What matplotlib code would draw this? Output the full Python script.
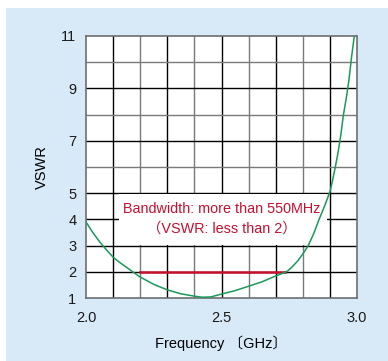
import matplotlib
matplotlib.use("Agg")
import matplotlib.pyplot as plt
from matplotlib.patches import Rectangle

plt.rcParams['font.family'] = ['Liberation Sans', 'Noto Sans CJK JP', 'DejaVu Sans']

# Datos
frecuencia = [2.00, 2.025, 2.05, 2.075, 2.10, 2.125, 2.15, 2.175, 2.20, 2.25, 2.30,
              2.35, 2.40, 2.43, 2.46, 2.50, 2.55, 2.60, 2.65, 2.70, 2.74,
              2.76, 2.78, 2.80, 2.82, 2.84, 2.86, 2.88, 2.90, 2.91, 2.92,
              2.93, 2.94, 2.95, 2.96, 2.97, 2.98, 2.99]
vswr = [3.90, 3.50, 3.15, 2.84, 2.56, 2.35, 2.17, 1.98, 1.80, 1.52, 1.31,
        1.16, 1.07, 1.03, 1.04, 1.15, 1.28, 1.45, 1.62, 1.84, 2.00,
        2.18, 2.40, 2.68, 3.00, 3.45, 4.00, 4.50, 5.05, 5.50, 6.00,
        6.55, 7.20, 8.00, 8.60, 9.30, 10.20, 11.00]
banda = [2.2, 2.735]
limite_vswr = 2
x_ticks = [2.0, 2.5, 3.0]
y_ticks = [1, 2, 3, 4, 5, 7, 9, 11]

fig = plt.figure(figsize=(3.88, 3.61), dpi=100)
fig.patches.append(Rectangle((6 / 388, 0), 1, (361 - 8) / 361, transform=fig.transFigure,
                             facecolor="#d8e9f7", edgecolor="none", zorder=-5))
ax = fig.add_axes([86 / 388, 1 - 298 / 361, 271 / 388, 262 / 361])
ax.set_zorder(2)
ax.set_facecolor("white")
ax.set_xlim(2.0, 3.0)
ax.set_ylim(1, 11)

# rejilla: negras y grises alternas
for i in range(1, 10):
    gx = 2.0 + i * 0.1
    ax.axvline(gx, color="black" if i % 2 == 1 else "#7a7a7a", lw=1.0, zorder=1)
for gy in range(2, 11):
    ax.axhline(gy, color="black" if gy in y_ticks else "#7a7a7a", lw=1.0, zorder=1)

# caja blanca del texto
ax.add_patch(Rectangle((2.122, 3.04), 0.767, 1.92, facecolor="white", edgecolor="none", zorder=2))

ax.plot(banda, [limite_vswr, limite_vswr], color="#c8102e", lw=1.8, zorder=3)
ax.plot(frecuencia, vswr, color="#1a9a5a", lw=1.1, zorder=4)

ax.text(2.5, 4.40, "Bandwidth: more than 550MHz", color="#c8102e", fontsize=10.4,
        ha="center", va="center", zorder=5)
ax.text(2.5, 3.65, "（VSWR: less than 2）", color="#c8102e", fontsize=10.4,
        ha="center", va="center", zorder=5)

ax.set_xticks(x_ticks)
ax.set_xticklabels(["2.0", "2.5", "3.0"])
ax.set_yticks(y_ticks)
ax.tick_params(length=0, labelsize=10.5, colors="#1a1a1a")
ax.tick_params(axis="x", pad=9)
ax.tick_params(axis="y", pad=7)
for s in ax.spines.values():
    s.set_color("#6e6e6e")
    s.set_linewidth(1.2)

ax.set_xlabel("Frequency 〔GHz〕", fontsize=10.5, labelpad=8)
ax.set_ylabel("VSWR", fontsize=10.5, labelpad=9)

fig.savefig("out.png", dpi=100)
